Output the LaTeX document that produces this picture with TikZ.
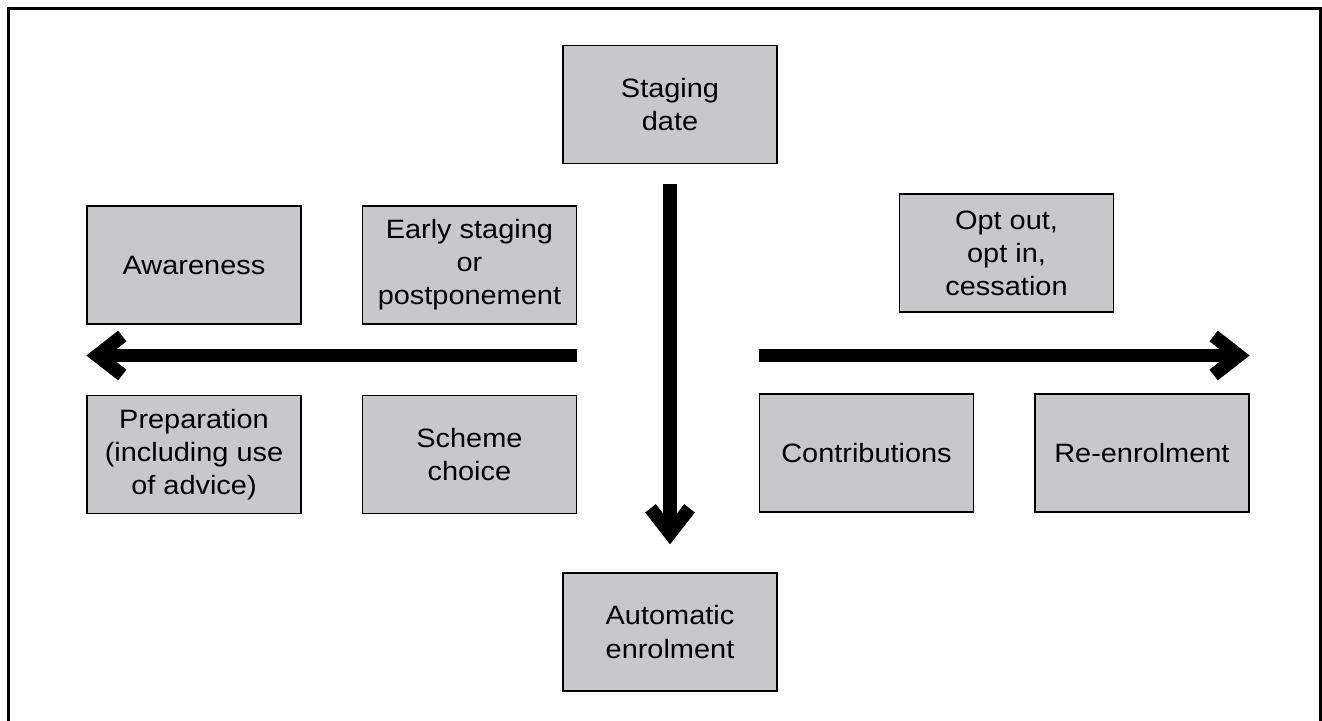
\documentclass[tikz,border=0pt]{standalone}
\usepackage{fontspec}
\setmainfont{Liberation Sans}[FakeStretch=1.09]
\usepackage{xcolor}
\usepackage{tikz}
\usetikzlibrary{arrows.meta, positioning}
\definecolor{boxgray}{RGB}{199,200,202}
\tikzstyle{arrow} = [line width=0.27cm, -{Straight Barb[sharp, length=0.5cm, width=0.78cm]}]

\begin{document}
\begin{tikzpicture}[
    node distance=1.4cm and 1.2cm,
    box/.style={
        rectangle,
        minimum width=4.28cm,
        minimum height=2.36cm,
        align=center,
        draw=black,
        line width=0.8pt,
        fill=boxgray,
        font=\fontsize{15.1}{18.8}\selectfont
    }
]
    \useasboundingbox (0,0) rectangle (26.44,-14.4);
    \draw[line width=0.06cm] (0.16,-14.6) -- (0.16,-0.16) -- (26.4,-0.16) -- (26.4,-14.6);

    \node[box] (awareness) at (3.88,-5.3) {Awareness};
    \node[box, right=of awareness] (early) {Early staging\\or\\postponement};
    \node[box, below=of awareness] (prep) {Preparation\\(including use\\of advice)};
    \node[box, right=of prep] (scheme) {Scheme\\choice};

    \node[box] (staging) at (13.4,-2.09) {Staging\\date};
    \node[box] (auto) at (13.4,-12.64) {Automatic\\enrolment};

    \node[box] (optout) at (20.13,-5.06) {Opt out,\\opt in,\\cessation};
    \node[box] (contrib) at (17.33,-9.06) {Contributions};
    \node[box, right=of contrib] (reenrol) {Re-enrolment};

    \coordinate (axis) at (0,-7.11);

    \draw[arrow] (early.east |- axis) -- (awareness.west |- axis);
    \draw[arrow] ([yshift=-0.4cm]staging.south) -- ([yshift=0.56cm]auto.north);
    \draw[arrow] (contrib.west |- axis) -- (reenrol.east |- axis);
\end{tikzpicture}
\end{document}
